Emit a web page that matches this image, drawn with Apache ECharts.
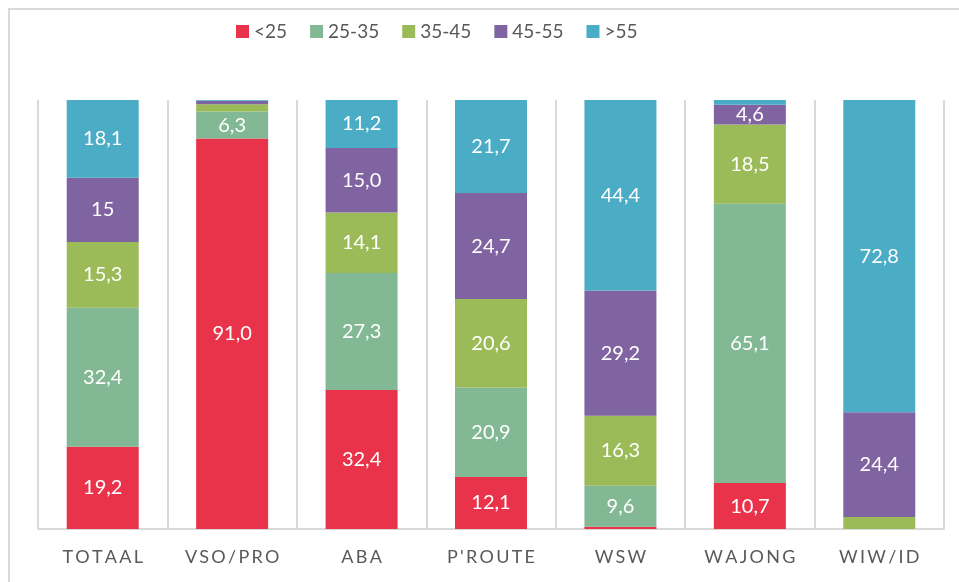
<!DOCTYPE html>
<html>
<head>
<meta charset="utf-8">
<script src="https://cdn.jsdelivr.net/npm/echarts@6/dist/echarts.min.js"></script>
<style>
  html, body { margin: 0; padding: 0; background: #fff; }
  #main { width: 959px; height: 582px; }
</style>
</head>
<body>
<div id="main"></div>
<script>
var categories = ['TOTAAL', 'VSO/PRO', 'ABA', "P'ROUTE", 'WSW', 'WAJONG', 'WIW/ID'];
var ageGroups = ['<25', '25-35', '35-45', '45-55', '>55'];
var colors = ['#e8334a', '#82b894', '#9bbb59', '#8064a2', '#4bacc6'];

var under25 = [19.2, 91.0, 32.4, 12.1, 0.5, 10.7, 0];
var age25to35 = [32.4, 6.3, 27.3, 20.9, 9.6, 65.1, 0];
var age35to45 = [15.3, 1.7, 14.1, 20.6, 16.3, 18.5, 2.8];
var age45to55 = [15, 0.8, 15.0, 24.7, 29.2, 4.6, 24.4];
var over55 = [18.1, 0.2, 11.2, 21.7, 44.4, 1.1, 72.8];

// labels that were shown without decimal in the original
var plainLabels = { '3-0': true };

var seriesValues = [under25, age25to35, age35to45, age45to55, over55];

var myChart = echarts.init(document.getElementById('main'));

var series = seriesValues.map(function(vals, i) {
	return {
		name: ageGroups[i],
		type: 'bar',
		stack: 'total',
		barWidth: 72,
		data: vals,
		itemStyle: { color: colors[i] },
		label: {
			show: true,
			position: 'inside',
			color: '#fff',
			fontSize: 20,
			fontFamily: 'Lato',
			formatter: function(p) {
				if (p.value < 4) return '';
				if (plainLabels[i + '-' + p.dataIndex]) return String(p.value);
				return p.value.toFixed(1).replace('.', ',');
			}
		}
	};
});

option = {
	animation: false,
	textStyle: { fontFamily: 'Lato' },
	graphic: [{
		type: 'rect',
		shape: { x: 9, y: 9, width: 1000, height: 1000 },
		style: { fill: 'none', stroke: '#d9d9d9', lineWidth: 2 },
		silent: true
	}],
	legend: {
		top: 17,
		left: 231,
		itemWidth: 13,
		itemHeight: 13,
		itemGap: 23,
		icon: 'rect',
		textStyle: { color: '#595959', fontSize: 19, fontFamily: 'Lato' },
		data: ageGroups
	},
	grid: { left: 38, right: 15, top: 100, bottom: 53, containLabel: false },
	xAxis: {
		type: 'category',
		data: categories,
		axisLine: { lineStyle: { color: '#d9d9d9', width: 2 } },
		axisTick: { show: false },
		splitLine: { show: true, interval: 0, lineStyle: { color: '#d9d9d9', width: 2 } },
		axisLabel: {
			interval: 0,
			color: '#595959',
			fontSize: 18,
			margin: 19,
			fontFamily: 'Lato',
			formatter: function(v) { return v.split('').join('\u2009'); }
		}
	},
	yAxis: {
		type: 'value',
		min: 0,
		max: 100,
		show: false
	},
	series: series
};

myChart.setOption(option);
</script>
</body>
</html>
